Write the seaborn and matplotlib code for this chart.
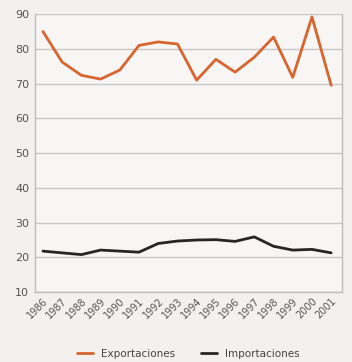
import pandas as pd
import numpy as np
import matplotlib
matplotlib.use("Agg")
import matplotlib.pyplot as plt
import seaborn as sns

# data
years = [str(y) for y in range(1986, 2002)]
exportaciones = [85, 76.2, 72.4, 71.3, 73.9, 81, 82, 81.4, 71, 77, 73.3, 77.6, 83.4, 71.8, 89.2, 69.5]
importaciones = [21.8, 21.3, 20.8, 22.1, 21.8, 21.5, 24.0, 24.7, 25.0, 25.1, 24.6, 25.9, 23.2, 22.1, 22.3, 21.3]

df = pd.DataFrame({
    "year": years * 2,
    "idx": list(range(len(years))) * 2,
    "valor": exportaciones + importaciones,
    "serie": ["Exportaciones"] * len(years) + ["Importaciones"] * len(years),
})

sns.set_style("white")
plt.rcParams['font.family'] = ['DejaVu Sans']

fig = plt.figure(figsize=(3.52, 3.62), dpi=100)
fig.patch.set_facecolor("#f2f1ef")
ax = fig.add_axes([0.099, 0.193, 0.873, 0.768])
ax.set_facecolor("#f7f6f4")

sns.lineplot(data=df, x="idx", y="valor", hue="serie",
             palette={"Exportaciones": "#d8642e", "Importaciones": "#262626"},
             linewidth=2, ax=ax)

ax.set_ylim(10, 90)
ax.set_yticks(range(10, 91, 10))
ax.set_xlim(-0.42, 15.57)
ax.set_xticks(range(len(years)))
ax.set_xticklabels(years, rotation=45, ha="right", rotation_mode="anchor", fontsize=7, color="#555555")
ax.tick_params(axis="y", labelsize=8, colors="#555555", length=0, pad=4)
ax.tick_params(axis="x", length=0, pad=3)
ax.yaxis.grid(True, color="#c8c8c8", linewidth=1)
for s in ax.spines.values():
    s.set_color("#bdbdbd")
    s.set_linewidth(1)
ax.spines["top"].set_visible(False)
ax.set_xlabel("")
ax.set_ylabel("")

handles, labels = ax.get_legend_handles_labels()
ax.legend(handles, labels, loc="upper center", bbox_to_anchor=(0.5, -0.17), ncol=2,
          frameon=False, fontsize=7.5, handlelength=1.5, columnspacing=2.5,
          labelcolor="#444444")

fig.savefig("out.png", dpi=100, facecolor=fig.get_facecolor())
